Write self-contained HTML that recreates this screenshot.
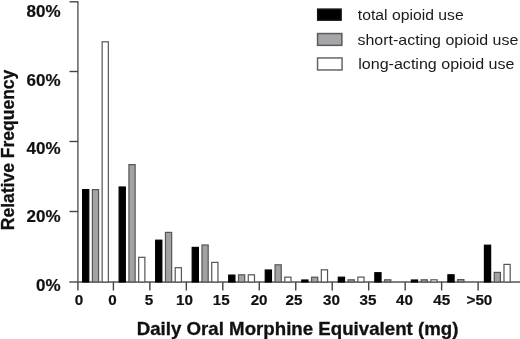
<!DOCTYPE html>
<html><head><meta charset="utf-8"><style>
html,body{margin:0;padding:0;background:#fff;width:520px;height:339px;overflow:hidden}
svg{display:block;will-change:transform;filter:blur(0.3px);font-family:"Liberation Sans",sans-serif}
</style></head><body>
<svg width="520" height="339" viewBox="0 0 520 339">
<g stroke="#555" stroke-width="1.4" fill="none">
<line x1="77.9" y1="1.3" x2="77.9" y2="282"/>
<line x1="69.3" y1="282" x2="520" y2="282"/>
</g>
<g stroke="#444" stroke-width="1.4"><line x1="69.5" y1="1.8" x2="78" y2="1.8"/><line x1="69.5" y1="71.5" x2="78" y2="71.5"/><line x1="69.5" y1="141.5" x2="78" y2="141.5"/><line x1="69.5" y1="211.5" x2="78" y2="211.5"/>
<line x1="77.90" y1="282" x2="77.90" y2="290.5"/><line x1="113.40" y1="282" x2="113.40" y2="290.5"/><line x1="149.87" y1="282" x2="149.87" y2="290.5"/><line x1="186.34" y1="282" x2="186.34" y2="290.5"/><line x1="222.81" y1="282" x2="222.81" y2="290.5"/><line x1="259.28" y1="282" x2="259.28" y2="290.5"/><line x1="295.75" y1="282" x2="295.75" y2="290.5"/><line x1="332.22" y1="282" x2="332.22" y2="290.5"/><line x1="368.69" y1="282" x2="368.69" y2="290.5"/><line x1="405.16" y1="282" x2="405.16" y2="290.5"/><line x1="441.63" y1="282" x2="441.63" y2="290.5"/><line x1="478.10" y1="282" x2="478.10" y2="290.5"/>
</g>
<rect x="82.60" y="189.60" width="6.20" height="92.40" fill="#000" stroke="#000" stroke-width="1.2"/><rect x="92.40" y="189.60" width="6.20" height="92.40" fill="#a2a2a4" stroke="#555" stroke-width="1.2"/><rect x="102.15" y="41.80" width="6.20" height="240.20" fill="#fff" stroke="#555" stroke-width="1.2"/><rect x="119.13" y="187.00" width="6.20" height="95.00" fill="#000" stroke="#000" stroke-width="1.2"/><rect x="128.93" y="164.60" width="6.20" height="117.40" fill="#a2a2a4" stroke="#555" stroke-width="1.2"/><rect x="138.68" y="257.30" width="6.20" height="24.70" fill="#fff" stroke="#555" stroke-width="1.2"/><rect x="155.66" y="240.20" width="6.20" height="41.80" fill="#000" stroke="#000" stroke-width="1.2"/><rect x="165.46" y="232.40" width="6.20" height="49.60" fill="#a2a2a4" stroke="#555" stroke-width="1.2"/><rect x="175.21" y="267.70" width="6.20" height="14.30" fill="#fff" stroke="#555" stroke-width="1.2"/><rect x="192.19" y="247.40" width="6.20" height="34.60" fill="#000" stroke="#000" stroke-width="1.2"/><rect x="201.99" y="245.00" width="6.20" height="37.00" fill="#a2a2a4" stroke="#555" stroke-width="1.2"/><rect x="211.74" y="262.40" width="6.20" height="19.60" fill="#fff" stroke="#555" stroke-width="1.2"/><rect x="228.72" y="275.10" width="6.20" height="6.90" fill="#000" stroke="#000" stroke-width="1.2"/><rect x="238.52" y="274.80" width="6.20" height="7.20" fill="#a2a2a4" stroke="#555" stroke-width="1.2"/><rect x="248.27" y="274.80" width="6.20" height="7.20" fill="#fff" stroke="#555" stroke-width="1.2"/><rect x="265.25" y="270.00" width="6.20" height="12.00" fill="#000" stroke="#000" stroke-width="1.2"/><rect x="275.05" y="264.80" width="6.20" height="17.20" fill="#a2a2a4" stroke="#555" stroke-width="1.2"/><rect x="284.80" y="277.20" width="6.20" height="4.80" fill="#fff" stroke="#555" stroke-width="1.2"/><rect x="301.78" y="280.00" width="6.20" height="2.00" fill="#000" stroke="#000" stroke-width="1.2"/><rect x="311.58" y="277.20" width="6.20" height="4.80" fill="#a2a2a4" stroke="#555" stroke-width="1.2"/><rect x="321.33" y="269.80" width="6.20" height="12.20" fill="#fff" stroke="#555" stroke-width="1.2"/><rect x="338.31" y="277.20" width="6.20" height="4.80" fill="#000" stroke="#000" stroke-width="1.2"/><rect x="348.11" y="279.80" width="6.20" height="2.20" fill="#a2a2a4" stroke="#555" stroke-width="1.2"/><rect x="357.86" y="277.10" width="6.20" height="4.90" fill="#fff" stroke="#555" stroke-width="1.2"/><rect x="374.84" y="272.70" width="6.20" height="9.30" fill="#000" stroke="#000" stroke-width="1.2"/><rect x="384.64" y="279.80" width="6.20" height="2.20" fill="#a2a2a4" stroke="#555" stroke-width="1.2"/><rect x="411.37" y="280.00" width="6.20" height="2.00" fill="#000" stroke="#000" stroke-width="1.2"/><rect x="421.17" y="279.80" width="6.20" height="2.20" fill="#a2a2a4" stroke="#555" stroke-width="1.2"/><rect x="430.92" y="279.80" width="6.20" height="2.20" fill="#fff" stroke="#555" stroke-width="1.2"/><rect x="447.90" y="274.80" width="6.20" height="7.20" fill="#000" stroke="#000" stroke-width="1.2"/><rect x="457.70" y="279.60" width="6.20" height="2.40" fill="#a2a2a4" stroke="#555" stroke-width="1.2"/><rect x="484.43" y="245.20" width="6.20" height="36.80" fill="#000" stroke="#000" stroke-width="1.2"/><rect x="494.23" y="272.40" width="6.20" height="9.60" fill="#a2a2a4" stroke="#555" stroke-width="1.2"/><rect x="503.98" y="264.40" width="6.20" height="17.60" fill="#fff" stroke="#555" stroke-width="1.2"/>
<g font-weight="bold" font-size="17" fill="#111" stroke="#111" stroke-width="0.2">
<text x="60.6" y="16.8" text-anchor="end">80%</text><text x="60.6" y="85.5" text-anchor="end">60%</text><text x="60.6" y="153.7" text-anchor="end">40%</text><text x="60.6" y="222.4" text-anchor="end">20%</text><text x="60.6" y="291.3" text-anchor="end">0%</text>
</g>
<g font-weight="bold" font-size="14.5" fill="#111" stroke="#111" stroke-width="0.2">
<text transform="translate(74.65,305.1) scale(1.05,1)">0</text><text transform="translate(108.35,305.1) scale(1.05,1)">0</text><text transform="translate(144.77,305.1) scale(1.05,1)">5</text><text transform="translate(176.04,305.1) scale(1.05,1)">10</text><text transform="translate(212.76,305.1) scale(1.05,1)">15</text><text transform="translate(250.65,305.1) scale(1.05,1)">20</text><text transform="translate(285.47,305.1) scale(1.05,1)">25</text><text transform="translate(323.10,305.1) scale(1.05,1)">30</text><text transform="translate(359.57,305.1) scale(1.05,1)">35</text><text transform="translate(396.08,305.1) scale(1.05,1)">40</text><text transform="translate(433.35,305.1) scale(1.05,1)">45</text><text transform="translate(466.49,305.1) scale(1.05,1)">&gt;50</text>
</g>
<g font-weight="bold" font-size="17.5" fill="#111" stroke="#111" stroke-width="0.3">
<text transform="translate(136.66,335.2) scale(1.0683,1)">Daily Oral Morphine Equivalent (mg)</text>
<text transform="translate(14.2,230.25) rotate(-90) scale(1.0013,1)">Relative Frequency</text>
</g>
<rect x="317.7" y="9.15" width="23.4" height="11" fill="#000" stroke="#111" stroke-width="1.5"/>
<rect x="317.55" y="33.55" width="24.3" height="11.8" fill="#a6a6a8" stroke="#5a5a5a" stroke-width="1.5"/>
<rect x="317.55" y="57.95" width="24.5" height="12" fill="#fff" stroke="#666" stroke-width="1.5"/>
<g font-size="15" fill="#1a1a1a">
<text transform="translate(357.84,20.2) scale(1.0500,1)">total opioid use</text>
<text transform="translate(357.47,44.6) scale(1.0658,1)">short-acting opioid use</text>
<text transform="translate(358.23,68.5) scale(1.0718,1)">long-acting opioid use</text>
</g>
</svg>
</body></html>
